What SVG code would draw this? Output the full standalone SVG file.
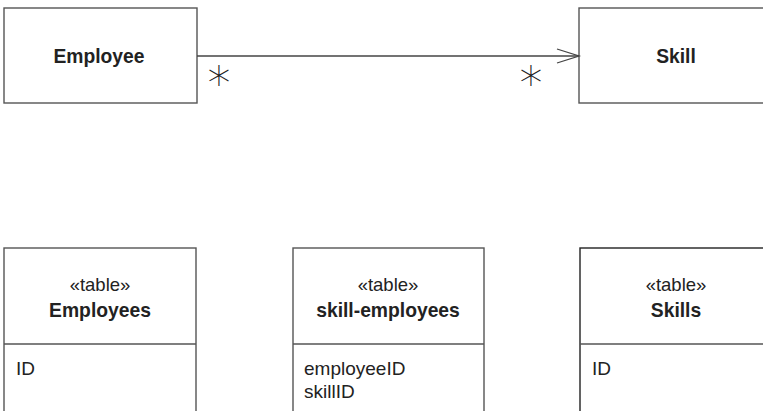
<svg xmlns="http://www.w3.org/2000/svg" width="763" height="411" viewBox="0 0 763 411">
<defs>
<style>
.box{fill:#fff;stroke:#555;stroke-width:1.4}
.div{stroke:#555;stroke-width:1.4}
.name{font-family:"Liberation Sans",Arial,sans-serif;font-weight:bold;font-size:19.3px;fill:#222;text-anchor:middle}
.stereo{font-family:"Liberation Sans",Arial,sans-serif;font-size:18.5px;fill:#222;text-anchor:middle}
.attr{font-family:"Liberation Sans",Arial,sans-serif;font-size:19px;fill:#222}
.mult{font-family:"DejaVu Sans",sans-serif;font-weight:200;font-size:46px;fill:#222;text-anchor:middle}
.conn{fill:none;stroke:#444;stroke-width:1.3}
</style>
</defs>
<rect width="763" height="411" fill="#fff"/>
<g id="employee">
<rect class="box" x="4" y="8" width="193" height="95"/>
<text class="name" x="99" y="63">Employee</text>
</g>
<g id="skill">
<rect class="box" x="579" y="8" width="193" height="95"/>
<text class="name" x="676" y="63">Skill</text>
</g>
<g id="employees-table">
<rect class="box" x="4" y="248" width="192" height="180"/>
<line class="div" x1="4" y1="344" x2="196" y2="344"/>
<text class="stereo" x="100" y="291">«table»</text>
<text class="name" x="100" y="317">Employees</text>
<text class="attr" x="16" y="375">ID</text>
</g>
<g id="skill-employees-table">
<rect class="box" x="293" y="248" width="191" height="180"/>
<line class="div" x1="293" y1="344" x2="484" y2="344"/>
<text class="stereo" x="388" y="291">«table»</text>
<text class="name" x="388" y="317">skill-employees</text>
<text class="attr" x="304" y="375">employeeID</text>
<text class="attr" x="304" y="398">skillID</text>
</g>
<g id="skills-table">
<rect class="box" x="580" y="248" width="192" height="180" style="stroke:#222"/>
<line class="div" x1="580" y1="344" x2="772" y2="344"/>
<text class="stereo" x="676" y="291">«table»</text>
<text class="name" x="676" y="317">Skills</text>
<text class="attr" x="592" y="375">ID</text>
</g>
<g id="connectors">
<line class="conn" x1="197" y1="56" x2="579" y2="56"/>
<polyline class="conn" points="557,49 579,56 557,63"/>
<text class="mult" x="219" y="99">*</text>
<text class="mult" x="531" y="99">*</text>
</g>
</svg>
